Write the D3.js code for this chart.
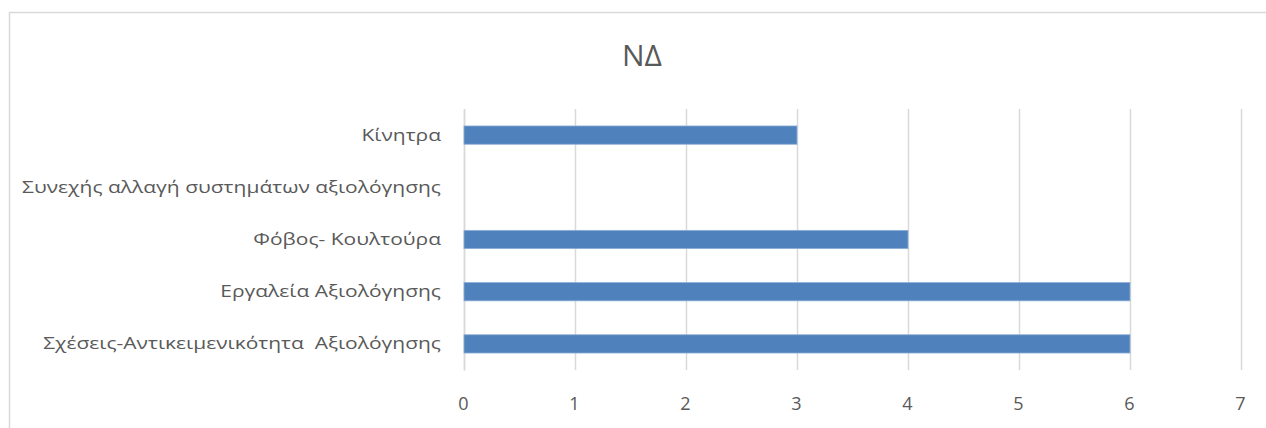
<!DOCTYPE html>
<html>
<head>
<meta charset="utf-8">
<script src="https://cdn.jsdelivr.net/npm/d3@7"></script>
<style>
  html, body { margin: 0; padding: 0; background: #fff; }
  svg { display: block; }
  text { font-family: "Open Sans", "Noto Sans", sans-serif; fill: #595959; white-space: pre; }
</style>
</head>
<body>
<svg id="chart" width="1266" height="428"></svg>
<script>
const title = "ΝΔ";
const categories = [
  "Κίνητρα",
  "Συνεχής αλλαγή συστημάτων αξιολόγησης",
  "Φόβος- Κουλτούρα",
  "Εργαλεία Αξιολόγησης",
  "Σχέσεις-Αντικειμενικότητα  Αξιολόγησης"
];
const values = [3, 0, 4, 6, 6];
const xTicks = [0, 1, 2, 3, 4, 5, 6, 7];

const svg = d3.select("#chart");
const W = 1266, H = 428;
const margin = { left: 464, right: 25, top: 109, bottom: 58 };

// chart frame
svg.append("rect")
  .attr("x", 9.5).attr("y", 12.5)
  .attr("width", W + 20).attr("height", H + 20)
  .attr("fill", "#fff").attr("stroke", "#d9d9d9").attr("stroke-width", 1.5);

// title
svg.append("text")
  .attr("x", 642).attr("y", 66)
  .attr("text-anchor", "middle")
  .style("font-size", "30px")
  .text(title);

const x = d3.scaleLinear().domain([0, 7]).range([margin.left, 1241]);
const y = d3.scaleBand().domain(categories)
  .range([margin.top, H - margin.bottom]).paddingInner(0.65).paddingOuter(0.325);

// vertical gridlines + value labels
const gx = svg.append("g")
  .attr("transform", `translate(0,${H - margin.bottom})`)
  .call(d3.axisBottom(x).tickValues(xTicks).tickFormat(d3.format("d"))
    .tickSize(-(H - margin.bottom - margin.top)));
gx.select(".domain").remove();
gx.selectAll(".tick line").attr("stroke", "#d9d9d9").attr("stroke-width", 1.5);
gx.selectAll(".tick text")
  .attr("x", -1).attr("y", 40).attr("dy", null)
  .style("font-size", "18px").attr("fill", "#595959");

// category axis (wide face)
const labScale = 1.235;
const gy = svg.append("g")
  .attr("transform", `translate(${margin.left},0)`)
  .call(d3.axisLeft(y).tickSize(0));
gy.select(".domain").attr("stroke", "#d9d9d9").attr("stroke-width", 1.5);
gy.selectAll(".tick text")
  .attr("x", -23 / labScale)
  .attr("transform", `scale(${labScale},1)`)
  .style("font-size", "17px").attr("fill", "#595959");

// bars
svg.append("g").selectAll("rect")
  .data(categories.map((c, i) => ({ c, v: values[i] })).filter(d => d.v > 0))
  .join("rect")
  .attr("x", x(0))
  .attr("y", d => y(d.c))
  .attr("width", d => x(d.v) - x(0))
  .attr("height", y.bandwidth())
  .attr("fill", "#4f81bd")
  .attr("stroke", "#8eaed6").attr("stroke-width", 0.8);
</script>
</body>
</html>
